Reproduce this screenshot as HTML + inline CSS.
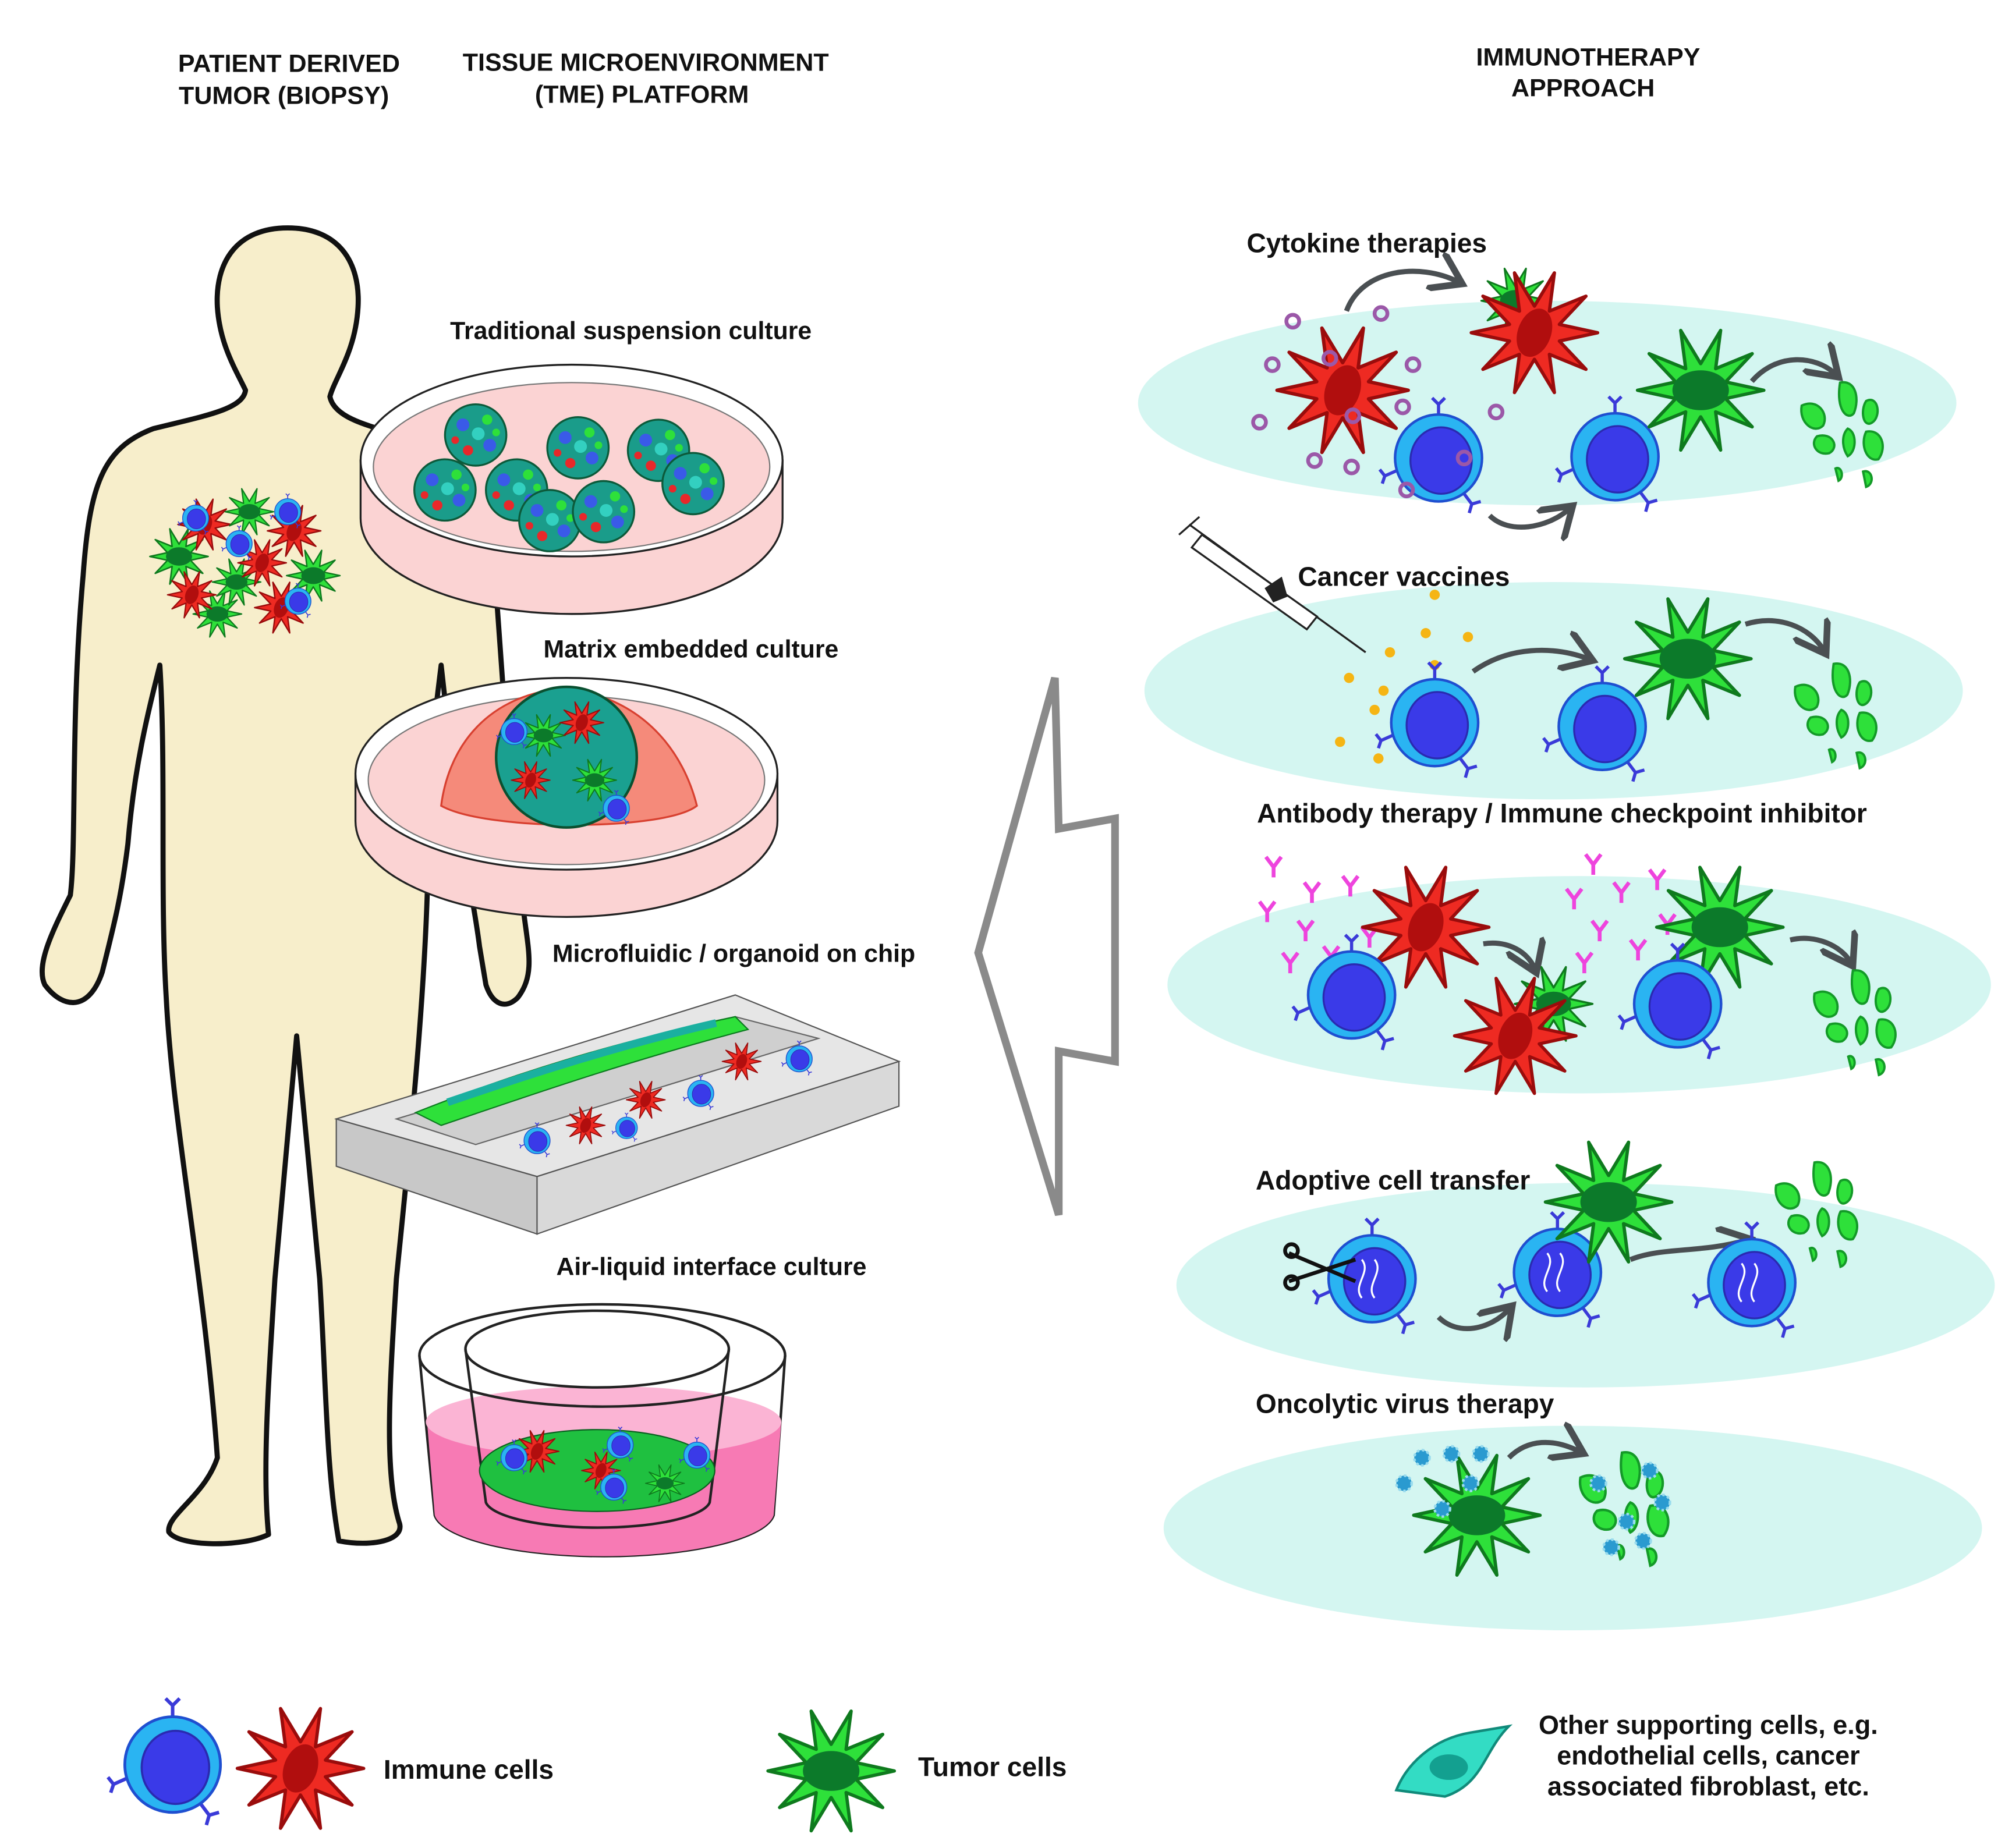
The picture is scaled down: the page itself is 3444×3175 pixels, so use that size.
<!DOCTYPE html>
<html><head><meta charset="utf-8"><style>
html,body{margin:0;padding:0;background:#fff;}
svg{display:block;}
text{font-family:"Liberation Sans",Arial,sans-serif;font-weight:bold;fill:#111;}
</style></head><body>
<svg width="3444" height="3175" viewBox="0 0 1568 1445" xmlns="http://www.w3.org/2000/svg">
<defs>
<g id="imm">
 <path d="M0,-33 L0,-42 M0,-42 L-5,-47 M0,-42 L5,-47 M-33,10 L-42,14 M-42,14 L-46,9 M-42,14 L-44,20 M20,28 L26,36 M26,36 L33,34 M26,36 L24,43" stroke="#3a3ad8" stroke-width="2.5" fill="none"/>
 <circle r="34" fill="#2ab4f2" stroke="#1f4fd0" stroke-width="2"/>
 <ellipse cx="2" cy="2" rx="24" ry="26" fill="#3a3ae8" stroke="#2a2ab0" stroke-width="1.5"/>
</g>
<g id="st">
 <path d="M38,0 L15,5 L31,22 L9,13 L12,36 L0,16 L-12,36 L-9,13 L-31,22 L-15,5 L-38,0 L-15,-5 L-31,-22 L-9,-13 L-12,-36 L0,-16 L12,-36 L9,-13 L31,-22 L15,-5 Z" stroke-linejoin="round" stroke-width="2"/>
</g>
<g id="red"><use href="#st" fill="#ee2a22" stroke="#9a0c0c"/><ellipse rx="10" ry="15" transform="rotate(20)" fill="#b10e0e"/></g>
<g id="grn"><use href="#st" fill="#2ee03a" stroke="#0f7a1e"/><ellipse rx="17" ry="12" fill="#0c7a2a"/></g>
<g id="frag" fill="#2ee03a" stroke="#149a28" stroke-width="1.5">
 <path d="M-5,-30 C5,-32 8,-20 4,-10 C0,-5 -8,-12 -5,-30Z"/>
 <path d="M-30,-15 C-20,-20 -12,-10 -16,-2 C-22,4 -32,-4 -30,-15Z"/>
 <path d="M12,-18 C20,-22 22,-8 16,-4 C10,0 8,-12 12,-18Z"/>
 <path d="M-20,5 C-10,2 -5,12 -12,16 C-20,18 -25,10 -20,5Z"/>
 <path d="M0,0 C6,2 6,15 0,18 C-4,12 -4,4 0,0Z"/>
 <path d="M12,2 C22,0 26,12 20,20 C12,22 8,10 12,2Z"/>
 <path d="M-8,26 C-4,24 -2,32 -6,34Z"/><path d="M10,28 C16,26 18,36 12,38Z"/>
</g>
<g id="org"><circle r="24" fill="#1a9c8a" stroke="#0c5a3a" stroke-width="1.5"/>
 <circle cx="-10" cy="-8" r="5" fill="#3a5ae8"/><circle cx="9" cy="-12" r="4" fill="#2ee03a"/><circle cx="11" cy="8" r="5" fill="#3a5ae8"/><circle cx="-6" cy="12" r="4" fill="#e8282a"/><circle cx="2" cy="-1" r="5" fill="#33d0c0"/><circle cx="-16" cy="4" r="3" fill="#e8282a"/><circle cx="16" cy="-2" r="3" fill="#2ee03a"/></g>
<marker id="ah" markerWidth="8" markerHeight="8" refX="5" refY="4" orient="auto" markerUnits="strokeWidth"><path d="M0,0 L6,4 L0,8" fill="none" stroke="#4a4f52" stroke-width="1.3"/></marker>
</defs>

<text x="226" y="56" font-size="19.6" text-anchor="middle">PATIENT DERIVED</text>
<text x="222" y="81" font-size="19.6" text-anchor="middle">TUMOR (BIOPSY)</text>
<text x="505" y="55" font-size="19.6" text-anchor="middle">TISSUE MICROENVIRONMENT</text>
<text x="502" y="80" font-size="19.6" text-anchor="middle">(TME) PLATFORM</text>
<text x="1242" y="51" font-size="19.6" text-anchor="middle">IMMUNOTHERAPY</text>
<text x="1238" y="75" font-size="19.6" text-anchor="middle">APPROACH</text>

<path d="M225,178 C265,178 282,205 280,240 C278,275 262,295 258,310 C262,330 300,335 330,345 C365,355 380,380 385,420 L395,560 C400,620 405,660 408,700 C412,740 420,760 405,780 C395,790 385,785 380,770 L375,740 C370,700 360,660 355,610 L345,520 C340,560 335,600 335,650 C335,760 320,900 310,1000 C305,1080 300,1150 312,1190 C318,1205 290,1210 265,1205 C255,1150 255,1080 250,1000 L232,810 L215,1000 C210,1080 205,1150 210,1200 C190,1210 140,1210 132,1198 C130,1185 160,1170 170,1140 C160,1000 135,880 130,780 C125,700 130,600 125,520 C115,560 105,600 100,660 C95,700 90,720 80,760 C70,790 50,790 35,770 C28,755 40,730 55,700 C60,660 55,560 65,450 C70,380 80,350 120,335 C160,325 190,320 192,305 C185,290 172,270 170,240 C168,205 185,178 225,178 Z" fill="#f7eecb" stroke="#111" stroke-width="4" stroke-linejoin="round"/>
<g transform="translate(195,440)">
 <use href="#grn" transform="translate(-55,-5) scale(0.6)"/><use href="#red" transform="translate(-35,-30) scale(0.55)"/>
 <use href="#grn" transform="translate(0,-40) scale(0.5)"/><use href="#red" transform="translate(35,-25) scale(0.55)"/>
 <use href="#grn" transform="translate(50,10) scale(0.55)"/><use href="#red" transform="translate(25,35) scale(0.55)"/>
 <use href="#grn" transform="translate(-25,40) scale(0.5)"/><use href="#red" transform="translate(-45,25) scale(0.5)"/>
 <use href="#grn" transform="translate(-10,15) scale(0.5)"/><use href="#red" transform="translate(10,0) scale(0.5)"/>
 <use href="#imm" transform="translate(-42,-35) scale(0.3)"/><use href="#imm" transform="translate(-8,-15) scale(0.3)"/>
 <use href="#imm" transform="translate(38,30) scale(0.3)"/><use href="#imm" transform="translate(30,-40) scale(0.3)"/>
</g>

<text x="352" y="265" font-size="19.5">Traditional suspension culture</text>
<path d="M282,360 L282,405 A165,75 0 0 0 612,405 L612,360 Z" fill="#fbd3d3" stroke="#222" stroke-width="1.5"/>
<ellipse cx="447" cy="360" rx="165" ry="75" fill="#fff" stroke="#222" stroke-width="1.5"/>
<ellipse cx="447" cy="365" rx="155" ry="66" fill="#fbd3d3" stroke="#777" stroke-width="1"/>
<use href="#org" transform="translate(372,340)"/><use href="#org" transform="translate(452,350)"/><use href="#org" transform="translate(515,352)"/>
<use href="#org" transform="translate(348,383)"/><use href="#org" transform="translate(404,383)"/><use href="#org" transform="translate(542,378)"/>
<use href="#org" transform="translate(430,407)"/><use href="#org" transform="translate(472,400)"/>

<text x="425" y="514" font-size="19.5">Matrix embedded culture</text>
<path d="M278,605 L278,642 A165,75 0 0 0 608,642 L608,605 Z" fill="#fbd3d3" stroke="#222" stroke-width="1.5"/>
<ellipse cx="443" cy="605" rx="165" ry="75" fill="#fff" stroke="#222" stroke-width="1.5"/>
<ellipse cx="443" cy="610" rx="155" ry="66" fill="#fbd3d3" stroke="#777"/>
<path d="M345,630 C350,590 375,545 440,538 C505,545 535,590 545,630 C520,650 380,650 345,630 Z" fill="#f58a7a" stroke="#d84030" stroke-width="1.5"/>
<circle cx="443" cy="592" r="55" fill="#1aa090" stroke="#0a5030" stroke-width="2"/>
<use href="#grn" transform="translate(425,575) scale(0.45)"/><use href="#red" transform="translate(455,565) scale(0.45)"/><use href="#grn" transform="translate(465,610) scale(0.45)"/><use href="#red" transform="translate(415,610) scale(0.4)"/>
<use href="#imm" transform="translate(402,572) scale(0.3)"/><use href="#imm" transform="translate(482,632) scale(0.3)"/>

<text x="432" y="752" font-size="19.5">Microfluidic / organoid on chip</text>
<polygon points="263,875 420,920 420,965 263,912" fill="#c8c8c8" stroke="#555" stroke-width="1"/>
<polygon points="420,920 703,830 703,865 420,965" fill="#d9d9d9" stroke="#555" stroke-width="1"/>
<polygon points="263,875 575,778 703,830 420,920" fill="#e6e6e6" stroke="#555" stroke-width="1"/>
<polygon points="310,875 575,795 640,812 372,895" fill="#cfcfcf" stroke="#666"/>
<path d="M325,870 C400,840 480,815 575,795 L585,805 C490,830 410,858 345,880 Z" fill="#2ee03a" stroke="#0c7a20"/>
<path d="M350,862 C420,838 490,816 560,800" stroke="#1ab0a0" stroke-width="6" fill="none"/>
<use href="#red" transform="translate(458,880) scale(0.4)"/><use href="#red" transform="translate(505,860) scale(0.4)"/><use href="#red" transform="translate(580,830) scale(0.4)"/>
<use href="#imm" transform="translate(420,892) scale(0.3)"/><use href="#imm" transform="translate(548,855) scale(0.3)"/><use href="#imm" transform="translate(625,828) scale(0.3)"/><use href="#imm" transform="translate(490,882) scale(0.25)"/>

<text x="435" y="997" font-size="19.5">Air-liquid interface culture</text>
<path d="M328,1060 L340,1185 A133,35 0 0 0 605,1185 L614,1060" fill="none" stroke="#222" stroke-width="2"/>
<path d="M334,1112 L340,1185 A133,35 0 0 0 605,1185 L611,1112 Z" fill="#f77ab4"/>
<ellipse cx="472" cy="1112" rx="139" ry="28" fill="#fbb4d4"/>
<ellipse cx="471" cy="1060" rx="143" ry="40" fill="none" stroke="#222" stroke-width="2"/>
<ellipse cx="467" cy="1055" rx="103" ry="30" fill="none" stroke="#222" stroke-width="2"/>
<path d="M364,1055 L380,1175 A88,22 0 0 0 555,1175 L570,1055" fill="none" stroke="#222" stroke-width="2"/>
<ellipse cx="467" cy="1150" rx="92" ry="32" fill="#1fc040" stroke="#0a6020"/>
<use href="#red" transform="translate(420,1135) scale(0.45)"/><use href="#red" transform="translate(470,1150) scale(0.4)"/><use href="#grn" transform="translate(520,1160) scale(0.4)"/>
<use href="#imm" transform="translate(402,1140) scale(0.3)"/><use href="#imm" transform="translate(485,1130) scale(0.3)"/><use href="#imm" transform="translate(480,1163) scale(0.3)"/><use href="#imm" transform="translate(545,1138) scale(0.3)"/>

<polygon points="825,530 828,648 872,640 872,830 828,822 828,950 765,745" fill="#fff" stroke="#8a8a8a" stroke-width="6" stroke-linejoin="miter"/>

<g fill="#d4f6f1">
<ellipse cx="1210" cy="315" rx="320" ry="80"/>
<ellipse cx="1215" cy="540" rx="320" ry="85"/>
<ellipse cx="1235" cy="770" rx="322" ry="85"/>
<ellipse cx="1240" cy="1005" rx="320" ry="80"/>
<ellipse cx="1230" cy="1195" rx="320" ry="80"/>
</g>

<g fill="none" stroke="#4a4f52" stroke-width="4" marker-end="url(#ah)">
 <path d="M1053,243 C1065,210 1110,205 1140,220"/>
 <path d="M1370,298 C1390,275 1420,278 1435,292"/>
 <path d="M1165,403 C1180,418 1210,413 1227,398"/>
 <path d="M1152,525 C1180,505 1215,505 1242,515"/>
 <path d="M1365,488 C1390,480 1415,490 1426,508"/>
 <path d="M1160,738 C1180,735 1195,745 1200,757"/>
 <path d="M1400,735 C1420,730 1440,740 1447,752"/>
 <path d="M1125,1030 C1140,1045 1165,1040 1180,1024"/>
 <path d="M1275,985 C1300,975 1330,980 1365,970"/>
 <path d="M1180,1140 C1195,1125 1215,1125 1235,1135"/>
</g>

<text x="975" y="197" font-size="21">Cytokine therapies</text>
<use href="#grn" transform="translate(1185,235) scale(0.7)"/>
<use href="#red" transform="translate(1200,260) scale(1.3)"/>
<use href="#red" transform="translate(1050,305) scale(1.35)"/>
<use href="#imm" transform="translate(1125,358)"/><use href="#imm" transform="translate(1263,357)"/>
<use href="#grn" transform="translate(1330,305) scale(1.3)"/>
<use href="#frag" transform="translate(1445,335) scale(1.2)"/>
<g fill="none" stroke="#9b58a8" stroke-width="3">
<circle cx="1011" cy="251" r="5"/><circle cx="1080" cy="245" r="5"/><circle cx="995" cy="285" r="5"/><circle cx="1040" cy="280" r="5"/><circle cx="1105" cy="285" r="5"/><circle cx="985" cy="330" r="5"/><circle cx="1028" cy="360" r="5"/><circle cx="1057" cy="365" r="5"/><circle cx="1097" cy="318" r="5"/><circle cx="1170" cy="322" r="5"/><circle cx="1145" cy="358" r="5"/><circle cx="1100" cy="383" r="5"/><circle cx="1058" cy="325" r="5"/>
</g>

<text x="1015" y="458" font-size="21">Cancer vaccines</text>
<g stroke="#222" fill="#fff" stroke-width="1.5">
<line x1="930" y1="410" x2="1068" y2="510"/>
<polygon points="940,418 1030,482 1022,492 932,428"/>
<line x1="922" y1="418" x2="938" y2="404"/>
<polygon points="990,460 1002,452 1006,466 996,470" fill="#222"/>
</g>
<g fill="#f5b514">
<circle cx="1122" cy="465" r="4"/><circle cx="1115" cy="495" r="4"/><circle cx="1148" cy="498" r="4"/><circle cx="1087" cy="510" r="4"/><circle cx="1055" cy="530" r="4"/><circle cx="1082" cy="540" r="4"/><circle cx="1075" cy="555" r="4"/><circle cx="1048" cy="580" r="4"/><circle cx="1078" cy="593" r="4"/><circle cx="1122" cy="520" r="4"/>
</g>
<use href="#imm" transform="translate(1122,565)"/><use href="#imm" transform="translate(1253,568)"/>
<use href="#grn" transform="translate(1320,515) scale(1.3)"/>
<use href="#frag" transform="translate(1440,555) scale(1.2)"/>

<text x="983" y="643" font-size="21">Antibody therapy / Immune checkpoint inhibitor</text>
<g stroke="#ee44dd" stroke-width="3" fill="none">
<path d="M990,670 l6,8 l6,-8 M996,678 v8"/><path d="M1020,690 l6,8 l6,-8 M1026,698 v8"/><path d="M985,705 l6,8 l6,-8 M991,713 v8"/><path d="M1050,685 l6,8 l6,-8 M1056,693 v8"/><path d="M1015,720 l6,8 l6,-8 M1021,728 v8"/><path d="M1003,745 l6,8 l6,-8 M1009,753 v8"/><path d="M1065,725 l6,8 l6,-8 M1071,733 v8"/><path d="M1035,740 l6,8 l6,-8 M1041,748 v8"/>
<path d="M1240,668 l6,8 l6,-8 M1246,676 v8"/><path d="M1225,695 l6,8 l6,-8 M1231,703 v8"/><path d="M1262,690 l6,8 l6,-8 M1268,698 v8"/><path d="M1290,680 l6,8 l6,-8 M1296,688 v8"/><path d="M1245,720 l6,8 l6,-8 M1251,728 v8"/><path d="M1275,735 l6,8 l6,-8 M1281,743 v8"/><path d="M1298,715 l6,8 l6,-8 M1304,723 v8"/><path d="M1233,745 l6,8 l6,-8 M1239,753 v8"/>
</g>
<use href="#red" transform="translate(1115,725) scale(1.3)"/>
<use href="#imm" transform="translate(1057,778)"/>
<use href="#grn" transform="translate(1215,785) scale(0.8)"/>
<use href="#red" transform="translate(1185,810) scale(1.25)"/>
<use href="#grn" transform="translate(1345,725) scale(1.3)"/>
<use href="#imm" transform="translate(1312,785)"/>
<use href="#frag" transform="translate(1455,795) scale(1.2)"/>

<text x="982" y="930" font-size="21">Adoptive cell transfer</text>
<use href="#imm" transform="translate(1073,1000)"/><use href="#imm" transform="translate(1218,995)"/><use href="#imm" transform="translate(1370,1003)"/>
<g stroke="#fff" stroke-width="1.5" fill="none">
<path d="M1065,985 c8,10 -8,20 0,30 M1075,985 c8,10 -8,20 0,30"/>
<path d="M1210,980 c8,10 -8,20 0,30 M1220,980 c8,10 -8,20 0,30"/>
<path d="M1362,988 c8,10 -8,20 0,30 M1372,988 c8,10 -8,20 0,30"/>
</g>
<g stroke="#111" stroke-width="3" fill="none"><line x1="1008" y1="980" x2="1060" y2="1002"/><line x1="1008" y1="1002" x2="1060" y2="985"/><circle cx="1010" cy="978" r="5"/><circle cx="1010" cy="1003" r="5"/></g>
<use href="#grn" transform="translate(1258,940) scale(1.3)"/>
<use href="#frag" transform="translate(1425,945) scale(1.2)"/>

<text x="982" y="1105" font-size="21">Oncolytic virus therapy</text>
<use href="#grn" transform="translate(1155,1185) scale(1.3)"/>
<use href="#frag" transform="translate(1275,1175) scale(1.3)"/>
<g fill="#2a9ad0" stroke="#9adcee" stroke-width="2" stroke-dasharray="2 2">
<circle cx="1098" cy="1160" r="6"/><circle cx="1112" cy="1140" r="6"/><circle cx="1135" cy="1137" r="6"/><circle cx="1158" cy="1137" r="6"/><circle cx="1128" cy="1180" r="6"/><circle cx="1150" cy="1160" r="6"/>
<circle cx="1250" cy="1160" r="6"/><circle cx="1290" cy="1150" r="6"/><circle cx="1272" cy="1190" r="6"/><circle cx="1300" cy="1175" r="6"/><circle cx="1260" cy="1210" r="6"/><circle cx="1285" cy="1205" r="6"/>
</g>

<use href="#imm" transform="translate(135,1380) scale(1.1)"/>
<use href="#red" transform="translate(235,1383) scale(1.3)"/>
<text x="300" y="1391" font-size="21">Immune cells</text>
<use href="#grn" transform="translate(650,1385) scale(1.3)"/>
<text x="718" y="1389" font-size="21">Tumor cells</text>
<path d="M1092,1400 C1100,1380 1120,1360 1150,1355 L1180,1350 C1160,1370 1160,1395 1130,1405 Z" fill="#33dcc4" stroke="#118a7a" stroke-width="2"/>
<ellipse cx="1133" cy="1382" rx="15" ry="10" fill="#13a090"/>
<text x="1336" y="1356" font-size="20.5" text-anchor="middle">Other supporting  cells, e.g.</text>
<text x="1336" y="1380" font-size="20.5" text-anchor="middle">endothelial cells, cancer</text>
<text x="1336" y="1404" font-size="20.5" text-anchor="middle">associated fibroblast, etc.</text>
</svg>
</body></html>
